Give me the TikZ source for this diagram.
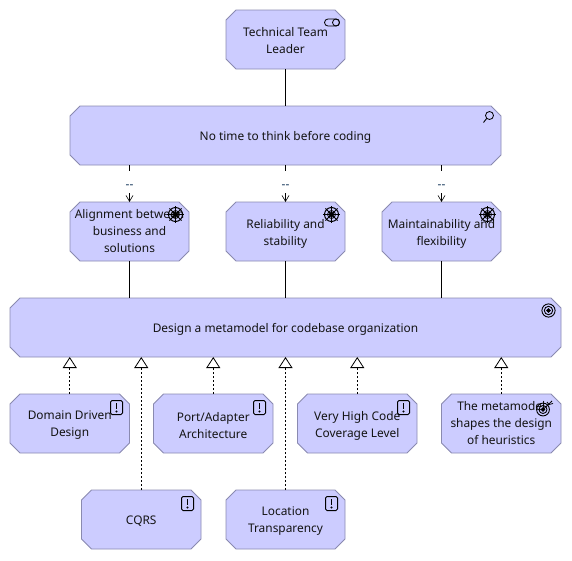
\documentclass[tikz,border=0pt]{standalone}
\usepackage{fontspec}
\setmainfont{Noto Sans}
\usetikzlibrary{arrows.meta}
\definecolor{boxfill}{HTML}{CCCCFF}
\definecolor{boxline}{HTML}{8A8AB0}
\definecolor{lbl}{HTML}{123458}
\tikzset{
  x=1pt,y=-1pt,
  elemshape/.style={draw=boxline,fill=boxfill,line width=0.9pt},
  elemgeo/.style={rectangle,inner sep=0pt,outer sep=0pt},
  elemtext/.style={inner sep=0pt,align=center,text=black!92,font=\fontsize{11.9}{17}\selectfont},
  solidc/.style={line width=0.9pt,black},
  assoc/.style={line width=0.8pt,black,dash pattern=on 6pt off 22pt on 9pt off 10pt,-{Straight Barb[length=6pt,width=7pt,line width=0.6pt]}},
  real/.style={line width=0.9pt,black,dash pattern=on 2pt off 2pt,-{Triangle[open,length=11pt,width=14pt,fill=white,line width=0.8pt]}},
  lab/.style={font=\fontsize{12}{12}\selectfont,text=lbl,inner sep=0.5pt,yshift=-3pt},
  ic/.style={line width=0.9pt,black},
}
% name, left, top, width, height, text shift, text
\newcommand{\elem}[7]{%
  \draw[elemshape] (#2+10,#3) -- (#2+#4-10,#3) -- (#2+#4,#3+10) -- (#2+#4,#3+#5-10)
    -- (#2+#4-10,#3+#5) -- (#2+10,#3+#5) -- (#2,#3+#5-10) -- (#2,#3+10) -- cycle;
  \node[elemgeo,minimum width=#4pt,minimum height=#5pt] (#1) at (#2+#4/2,#3+#5/2) {};
  \node[elemtext,yshift=#6pt] (#1-t) at (#1) {#7};
}
\newcommand{\wheelicon}[2]{\begin{scope}[shift={(#1,#2)},ic]
  \draw[line width=1pt] (0,0) circle (7pt); \draw[line width=.8pt] (0,0) circle (4pt);
  \fill (0,0) circle (2.6pt);
  \foreach \a in {0,45,...,315} \draw[line width=.9pt] (0,0) -- (\a:8.5pt);
\end{scope}}
\newcommand{\reqicon}[2]{\begin{scope}[shift={(#1,#2)},ic]
  \draw[rounded corners=1.5pt,line width=1pt] (-6,-7) rectangle (6,7);
  \draw[line width=1.9pt] (0,-4.5) -- (0,1.5);
  \fill (0,4) circle (1.2pt);
\end{scope}}
\begin{document}
\begin{tikzpicture}
\useasboundingbox (0,0) rectangle (572,560);
% nodes
\elem{leader}{226}{10}{119}{59}{-1}{Technical Team\\Leader}
\elem{problem}{70}{106}{431}{59}{-1.5}{No time to think before coding}
\elem{d1}{70}{202}{119}{59}{0}{Alignment between\\business and\\solutions}
\elem{d2}{226}{202}{119}{59}{-2}{Reliability and\\stability}
\elem{d3}{382}{202}{119}{59}{-2}{Maintainability and\\flexibility}
\elem{goal}{10}{298}{551}{59}{-1.5}{Design a metamodel for codebase organization}
\elem{r1}{10}{394}{119.5}{59}{-2}{Domain Driven\\Design}
\elem{r2}{153.5}{394}{119.5}{59}{-2}{Port/Adapter\\Architecture}
\elem{r3}{297.5}{394}{119.5}{59}{-2}{Very High Code\\Coverage Level}
\elem{r4}{441.5}{394}{119.5}{59}{0}{The metamodel\\shapes the design\\of heuristics}
\elem{r5}{81.5}{490}{119.5}{59}{-1.5}{CQRS}
\elem{r6}{226}{490}{119}{59}{-2}{Location\\Transparency}
% connectors
\draw[solidc] (leader) -- (problem);
\draw[assoc] (problem.south -| d1) -- node[lab,pos=.5]{-{}-} (d1.north);
\draw[assoc] (problem) -- node[lab,pos=.5]{-{}-} (d2);
\draw[assoc] (problem.south -| d3) -- node[lab,pos=.5]{-{}-} (d3.north);
\draw[solidc] (d1) -- (d1 |- goal.north);
\draw[solidc] (d2) -- (goal);
\draw[solidc] (d3) -- (d3 |- goal.north);
\draw[real] (r1) -- (r1 |- goal.south);
\draw[real] (r2) -- (r2 |- goal.south);
\draw[real] (r3) -- (r3 |- goal.south);
\draw[real] (r4) -- (r4 |- goal.south);
\draw[real] (r5) -- (r5 |- goal.south);
\draw[real] (r6) -- (r6 |- goal.south);
% icons
\begin{scope}[ic]
  \draw[line width=.8pt,rounded corners=3.5pt] (324.5,19) rectangle (339.5,26);
  \draw[line width=.8pt] (336,22.5) circle (3.5);
  \draw[line width=.8pt] (489.5,115.5) circle (4);
  \draw[line width=.9pt] (486.6,118.5) -- (483.5,122.5);
  \foreach \r in {1.8,4.2,6.6} \draw[line width=.9pt] (548.5,310.5) circle (\r);
  \fill (548.5,310.5) circle (1.8);
\end{scope}
\wheelicon{175.5}{214.5}
\wheelicon{331.5}{214.5}
\wheelicon{487.5}{214.5}
\reqicon{116.5}{407.5}
\reqicon{259.5}{407.5}
\reqicon{403.5}{407.5}
\reqicon{187.5}{503.5}
\reqicon{331.5}{503.5}
\begin{scope}[ic]
  \foreach \r in {1.8,4,6.4} \draw[line width=.9pt] (543,409.5) circle (\r);
  \fill (543,409.5) circle (1.8);
  \draw[line width=.8pt] (543,409.5) -- (552,401);
  \draw[line width=.8pt] (547,402) -- (549,404.5) -- (553,403.5);
\end{scope}
\end{tikzpicture}
\end{document}
